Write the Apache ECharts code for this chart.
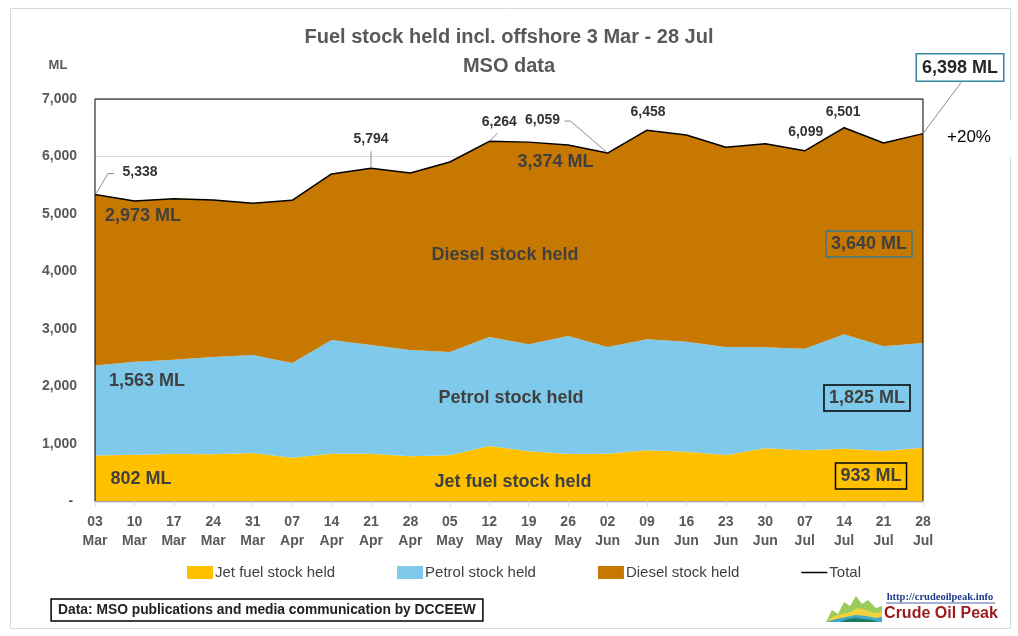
<!DOCTYPE html>
<html>
<head>
<meta charset="utf-8">
<script src="https://cdn.jsdelivr.net/npm/echarts@6/dist/echarts.min.js"></script>
<style>
html, body {margin: 0; padding: 0; background: #fff;}
#chart {width: 1018px; height: 636px;}
</style>
</head>
<body>
<div id="chart"></div>
<script>
// weekly MSO figures, ML
var weeks = ['03\nMar', '10\nMar', '17\nMar', '24\nMar', '31\nMar', '07\nApr', '14\nApr', '21\nApr', '28\nApr',
    '05\nMay', '12\nMay', '19\nMay', '26\nMay', '02\nJun', '09\nJun', '16\nJun', '23\nJun', '30\nJun',
    '07\nJul', '14\nJul', '21\nJul', '28\nJul'];
var jet_fuel = [802, 814, 826, 821, 843, 762, 832, 832, 786, 803, 965, 873, 826, 832, 890, 867, 809, 925, 890, 919, 878, 933];
var petrol = [1563, 1618, 1641, 1692, 1705, 1647, 1977, 1890, 1849, 1797, 1896, 1861, 2052, 1853, 1931, 1912, 1878, 1757, 1768, 1989, 1821, 1825];
var diesel = [2973, 2794, 2799, 2730, 2638, 2829, 2887, 3072, 3078, 3304, 3403, 3516, 3322, 3374, 3637, 3595, 3473, 3541, 3441, 3593, 3536, 3640];
var total = [5338, 5226, 5266, 5243, 5186, 5238, 5696, 5794, 5713, 5904, 6264, 6250, 6200, 6059, 6458, 6374, 6160, 6223, 6099, 6501, 6235, 6398];
var series_names = ['Jet fuel stock held', 'Petrol stock held', 'Diesel stock held', 'Total'];
var series_colors = ['#FFC000', '#7FC9EA', '#C77800', '#000000'];

// which total points get a value label: index, label offset, leader line offsets
var total_notes = [
    {i: 0, dx: 45, dy: -22, lead: [[1, -1], [13, -21], [19, -21]]},
    {i: 7, dx: 0, dy: -29, lead: [[0, -1], [0, -17]]},
    {i: 10, dx: 10, dy: -19, lead: [[0, 0], [8, -8]]},
    {i: 13, dx: -65, dy: -33, lead: [[-1, -1], [-37, -32], [-43, -32]]},
    {i: 14, dx: 1, dy: -18, lead: null},
    {i: 18, dx: 1, dy: -19, lead: null},
    {i: 19, dx: -1, dy: -16, lead: null},
];

const font = '"Liberation Sans", Arial, sans-serif';
const grey = '#595959';
const dark = '#404040';

function fmt(v) {
    return v.toLocaleString('en-US');
}

var option = {
    animation: false,
    backgroundColor: '#fff',
    textStyle: {fontFamily: font},
    title: {
        text: 'Fuel stock held incl. offshore 3 Mar - 28 Jul\nMSO data',
        left: 'center',
        top: 18,
        textStyle: {fontSize: 20, fontWeight: 'bold', color: grey, lineHeight: 29, fontFamily: font},
    },
    legend: {
        left: 182,
        top: 560,
        itemWidth: 26,
        itemHeight: 13,
        itemGap: 62,
        textStyle: {fontSize: 15, color: dark, padding: [0, 0, 0, -3]},
        data: [
            {name: series_names[0], icon: 'rect'},
            {name: series_names[1], icon: 'rect'},
            {name: series_names[2], icon: 'rect'},
            {name: series_names[3], icon: 'path://M0 0 H26 V1.5 H0 Z'},
        ],
    },
    grid: {
        left: 95, right: 95, top: 99, bottom: 134.5,
        show: true, borderColor: '#000', borderWidth: 1, backgroundColor: 'transparent', z: 5,
    },
    xAxis: {
        type: 'category',
        data: weeks,
        boundaryGap: false,
        z: 6,
        axisLine: {lineStyle: {color: '#d9d9d9', width: 1.5}},
        axisTick: {length: 5, lineStyle: {color: '#d9d9d9'}},
        axisLabel: {fontSize: 14, fontWeight: 'bold', color: grey, lineHeight: 19, margin: 11, interval: 0},
    },
    yAxis: {
        type: 'value',
        min: 0, max: 7000, interval: 1000,
        axisLine: {show: false},
        axisTick: {show: false},
        splitLine: {lineStyle: {color: '#d9d9d9', width: 1}},
        axisLabel: {
            fontSize: 14, fontWeight: 'bold', color: grey, margin: 18,
            formatter: function (v) {return v === 0 ? '- ' : fmt(v);},
        },
    },
    series: [jet_fuel, petrol, diesel].map(function (vals, k) {
        return {
            name: series_names[k], type: 'line', stack: 'fuel', data: vals,
            symbol: 'none', showSymbol: false, color: series_colors[k],
            lineStyle: {width: 0, opacity: 0},
            areaStyle: {color: series_colors[k], opacity: 1},
            z: 2,
        };
    }).concat([{
        name: series_names[3], type: 'line', data: total,
        symbol: 'none', showSymbol: false, color: '#000',
        lineStyle: {color: '#000', width: 1.5},
        z: 3,
    }]),
};

var chart = echarts.init(document.getElementById('chart'));
chart.setOption(option);

function px(i, v) {
    return chart.convertToPixel({xAxisIndex: 0, yAxisIndex: 0}, [i, v]);
}

var g = [];
function text(t, x, y, size, opts) {
    var st = Object.assign({
        text: t, x: x, y: y, align: 'center', verticalAlign: 'middle',
        font: 'bold ' + size + 'px ' + font, fill: dark,
    }, opts || {});
    g.push({type: 'text', z: 20, style: st, silent: true});
}

// outer frame
g.push({type: 'rect', z: 0, shape: {x: 10.5, y: 8.5, width: 1000, height: 620},
    style: {fill: 'none', stroke: '#d9d9d9', lineWidth: 1}, silent: true});
g.push({type: 'rect', z: 1, shape: {x: 935, y: 120, width: 80, height: 38},
    style: {fill: '#fff'}, silent: true});

// axis unit
text('ML', 58, 65, 13, {fill: grey});

// total labels with leader lines
total_notes.forEach(function (n) {
    var p = px(n.i, total[n.i]);
    text(fmt(total[n.i]), p[0] + n.dx, p[1] + n.dy, 14, {fill: '#333'});
    if (n.lead) {
        g.push({type: 'polyline', z: 19, silent: true,
            shape: {points: n.lead.map(function (o) {return [p[0] + o[0], p[1] + o[1]];})},
            style: {stroke: '#8c8c8c', lineWidth: 1, fill: 'none'}});
    }
});

// last total, boxed
var last = total.length - 1;
var pl = px(last, total[last]);
g.push({type: 'line', z: 19, silent: true,
    shape: {x1: pl[0], y1: pl[1], x2: pl[0] + 38, y2: pl[1] - 51},
    style: {stroke: '#8c8c8c', lineWidth: 1}});
text(fmt(total[last]) + ' ML', pl[0] + 37, pl[1] - 66, 18,
    {fill: '#262626', padding: [5, 5, 3, 5], borderColor: '#31859C', borderWidth: 1.5, backgroundColor: '#fff'});
text('+20%', pl[0] + 46, pl[1] + 4, 17, {font: '17px ' + font, fill: '#000'});

// series start values
var p0 = px(0, total[0]);
text(fmt(diesel[0]) + ' ML', p0[0] + 48, p0[1] + 21, 18);
var p0b = px(0, jet_fuel[0] + petrol[0]);
text(fmt(petrol[0]) + ' ML', p0b[0] + 52, p0b[1] + 16, 18);
var p0c = px(0, jet_fuel[0]);
text(fmt(jet_fuel[0]) + ' ML', p0c[0] + 46, p0c[1] + 24, 18);

// diesel at 02 Jun
var pj = px(13, total[13]);
text(fmt(diesel[13]) + ' ML', pj[0] - 52, pj[1] + 9, 18);

// series end values, boxed
var pe = px(last, 0);
text(fmt(diesel[last]) + ' ML', pe[0] - 54, 244, 18, {padding: [5, 5, 3, 5], borderColor: '#3A7A8A', borderWidth: 1.5});
text(fmt(petrol[last]) + ' ML', pe[0] - 56, 398, 18, {padding: [5, 5, 3, 5], borderColor: '#000', borderWidth: 1.5});
text(fmt(jet_fuel[last]) + ' ML', pe[0] - 52, 476, 18, {padding: [5, 5, 3, 5], borderColor: '#000', borderWidth: 1.5});

// band names
text(series_names[2], 505, 255, 18);
text(series_names[1], 511, 398, 18);
text(series_names[0], 513, 482, 18);

// source box
text('Data: MSO publications and media communication by DCCEEW', 267, 610, 13.8,
    {fill: '#222', padding: [5, 7, 3, 7], borderColor: '#000', borderWidth: 1.5});

// logo
g.push({type: 'group', x: 826, y: 592, z: 15, silent: true, children: [
    {type: 'polygon', shape: {points: [[0, 30], [6, 18], [12, 22], [18, 10], [24, 14], [30, 4], [36, 12], [42, 8], [50, 16], [56, 14], [56, 30]]},
        style: {fill: '#9BCB5A'}},
    {type: 'polygon', shape: {points: [[0, 30], [8, 24], [16, 22], [24, 20], [32, 16], [40, 18], [48, 21], [56, 20], [56, 30]]},
        style: {fill: '#F2D13C'}},
    {type: 'polygon', shape: {points: [[0, 30], [10, 27], [20, 25], [30, 23], [40, 24], [50, 26], [56, 25], [56, 30]]},
        style: {fill: '#3FA7C9'}},
    {type: 'polygon', shape: {points: [[14, 30], [22, 27], [30, 26], [38, 27], [46, 28], [52, 30]]},
        style: {fill: '#1C7B5E'}},
]});
text('http://crudeoilpeak.info', 940, 597, 10.5,
    {font: 'bold 10.5px "Liberation Serif", serif', fill: '#1F3C8C'});
g.push({type: 'line', z: 20, silent: true, shape: {x1: 886, y1: 603, x2: 995, y2: 603},
    style: {stroke: '#1F3C8C', lineWidth: 0.8}});
text('Crude Oil Peak', 941, 614, 16, {fill: '#9B1C1C'});

chart.setOption({graphic: g});
</script>
</body>
</html>
